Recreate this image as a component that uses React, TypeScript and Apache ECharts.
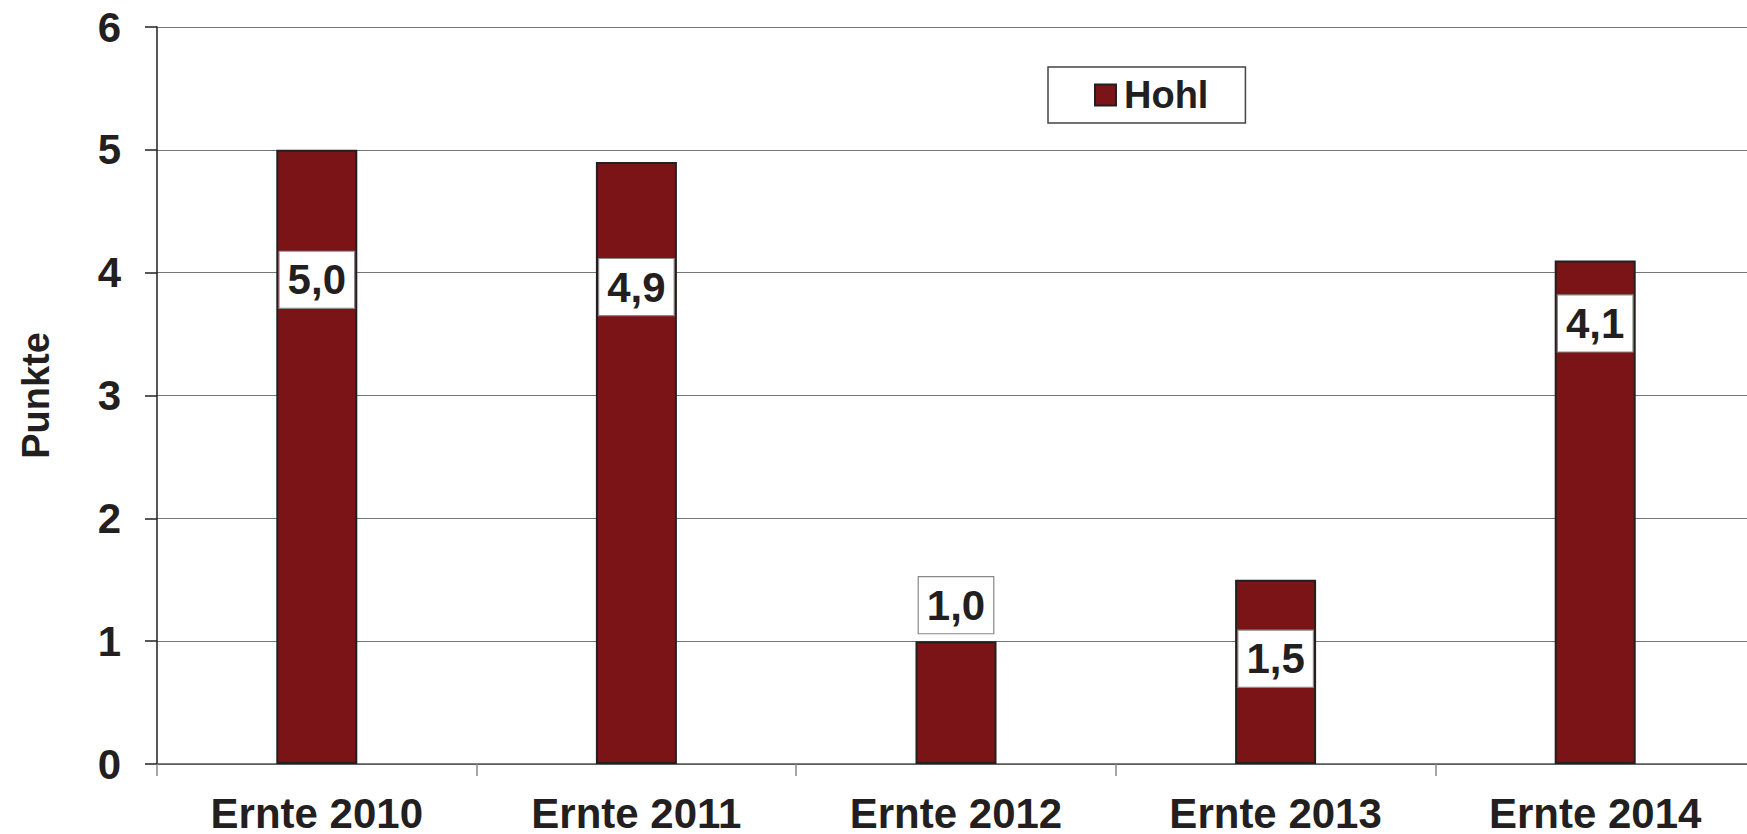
import React, { useEffect, useRef } from "react";
import * as echarts from "echarts";

const categories = ["Ernte 2010", "Ernte 2011", "Ernte 2012", "Ernte 2013", "Ernte 2014"];
const hohlValues = [5.0, 4.9, 1.0, 1.5, 4.1];
const seriesName = "Hohl";
const yAxisTitle = "Punkte";

// label center offset (px) from bar top, as placed in the original
const labelOffsets = [130, 125, -36, 79, 63];

const FONT = "'Liberation Sans', Arial, Helvetica, sans-serif";
const TEXT = "#231f20";
const BAR = "#7b1416";

export default function App() {
  const ref = useRef<HTMLDivElement>(null);
  useEffect(() => {
    if (!ref.current) return;
    const chart = echarts.init(ref.current, undefined, { renderer: "svg" });
    const barWidth = 81;
    chart.setOption({
      animation: false,
      backgroundColor: "#ffffff",
      textStyle: { fontFamily: FONT },
      grid: { left: 157, top: 27, bottom: 68, right: 0, containLabel: false },
      legend: {
        data: [seriesName],
        left: 1048,
        top: 67,
        backgroundColor: "#ffffff",
        borderColor: "#444",
        borderWidth: 1.5,
        padding: [9, 37, 9, 46],
        itemWidth: 21,
        itemHeight: 21,
        itemGap: 12,
        icon: "rect",
        itemStyle: { color: BAR, borderColor: TEXT, borderWidth: 2 },
        textStyle: { fontFamily: FONT, fontWeight: "bold", fontSize: 38, color: TEXT, lineHeight: 38, padding: [0, 0, 0, 3] },
      },
      xAxis: {
        type: "category",
        data: categories,
        axisLine: { show: true, lineStyle: { color: "#555", width: 1.5 } },
        axisTick: { show: true, length: 12, alignWithLabel: false, lineStyle: { color: "#888", width: 1.5 } },
        axisLabel: { fontFamily: FONT, fontWeight: "bold", fontSize: 42, lineHeight: 36, color: TEXT, margin: 31, interval: 0 },
        splitLine: { show: false },
      },
      yAxis: {
        type: "value",
        min: 0,
        max: 6,
        interval: 1,
        name: yAxisTitle,
        nameLocation: "middle",
        nameRotate: 90,
        nameGap: 102,
        nameTextStyle: { fontFamily: FONT, fontWeight: "bold", fontSize: 38, color: TEXT },
        axisLine: { show: true, lineStyle: { color: TEXT, width: 1.5 } },
        axisTick: { show: true, length: 12, lineStyle: { color: TEXT, width: 1.5 } },
        axisLabel: { fontFamily: FONT, fontWeight: "bold", fontSize: 42, color: TEXT, margin: 36 },
        splitLine: { show: true, lineStyle: { color: "#777", width: 1.2 } },
      },
      series: [
        {
          name: seriesName,
          type: "bar",
          barWidth,
          data: hohlValues.map((v, i) => ({
            value: v,
            label: {
              position: [barWidth / 2, labelOffsets[i]],
            },
          })),
          itemStyle: { color: BAR, borderColor: TEXT, borderWidth: 2 },
          label: {
            show: true,
            align: "center",
            verticalAlign: "middle",
            formatter: (p: any) => Number(p.value).toFixed(1).replace(".", ","),
            fontFamily: FONT,
            fontWeight: "bold",
            fontSize: 42,
            lineHeight: 42,
            color: TEXT,
            backgroundColor: "#ffffff",
            borderColor: "#888",
            borderWidth: 1.2,
            padding: [7, 8, 7, 8],
          },
        },
      ],
    });
    return () => chart.dispose();
  }, []);
  return (
    <div style={{ position: "fixed", left: 0, top: 0, width: 1747, height: 834, overflow: "hidden", background: "#fff" }}>
      <div ref={ref} style={{ width: 1755, height: 834 }} />
    </div>
  );
}
